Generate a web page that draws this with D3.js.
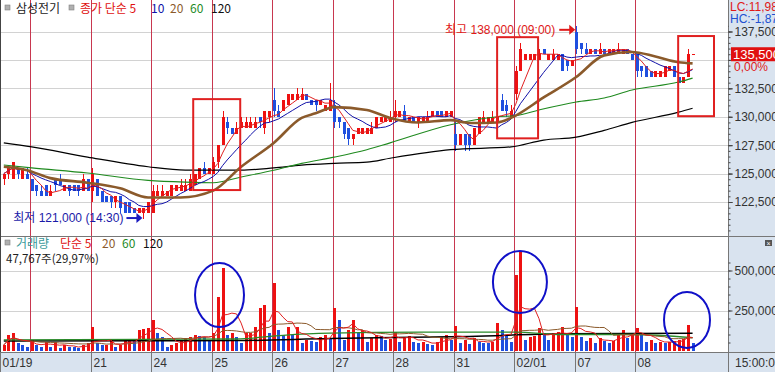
<!DOCTYPE html>
<html>
<head>
<meta charset="utf-8">
<script src="https://cdn.jsdelivr.net/npm/d3@7"></script>
<style>
body { margin: 0; background: #fff; }
svg { display: block; font-family: "Liberation Sans", "Noto Sans CJK KR", sans-serif; }
</style>
</head>
<body>
<svg id="chart" width="775" height="372"></svg>
<script>
// day labels on the time axis ("20" is hidden behind 01/19)
var dayLabels = ["01/19", "", "21", "24", "25", "26", "27", "28", "31", "02/01", "07", "08"];

// 30 min candles, [open, high, low, close] in 1,000 won, one array per day
var ohlc = [
  [[124.5,125.0,124.0,125.0],[125.0,125.5,124.5,125.5],[124.5,126.0,124.5,126.0],[125.5,125.5,124.5,125.0],[124.5,125.5,124.5,125.5],[125.0,125.5,124.5,124.5]],
  [[124.5,124.5,123.5,123.5],[124.0,124.0,123.0,123.5],[123.5,124.0,123.0,123.0],[124.0,124.0,123.0,123.0],[123.0,124.0,123.0,123.5],[124.5,124.5,123.5,124.0],[124.5,125.0,124.0,124.0],[123.5,124.0,123.5,124.0],[124.0,124.0,123.0,123.5],[124.0,124.0,123.5,123.5],[124.0,124.0,123.0,123.5],[123.5,125.0,123.5,124.5],[124.5,124.5,123.5,123.5]],
  [[123.5,125.5,122.5,125.0],[124.5,124.5,123.0,123.0],[123.5,123.5,122.5,122.5],[123.0,123.0,122.5,122.5],[123.0,123.0,122.0,122.5],[122.5,123.0,122.0,123.0],[123.0,123.0,121.5,122.0],[122.5,122.5,121.5,121.5],[122.5,122.5,121.5,121.5],[122.0,122.0,121.5,121.5],[121.5,122.0,121.5,122.0],[121.5,122.0,121.0,122.0],[121.5,122.5,121.5,122.5]],
  [[121.5,124.0,121.5,123.5],[123.0,124.0,123.0,123.5],[123.0,124.0,123.0,123.5],[123.0,123.5,123.0,123.5],[123.0,124.0,123.0,124.0],[123.5,124.0,123.5,124.0],[123.5,124.5,123.5,124.0],[123.5,124.5,123.5,124.0],[123.5,125.0,123.5,124.5],[124.0,125.0,124.0,125.0],[124.5,125.5,124.5,125.5],[125.5,126.0,125.0,125.0],[125.0,125.5,125.0,125.5]],
  [[125.0,126.5,125.0,126.0],[126.0,127.5,125.5,127.5],[127.5,130.5,127.5,130.0],[129.5,130.0,128.5,129.0],[129.0,129.0,128.5,128.5],[128.5,129.5,128.5,129.0],[129.0,130.0,129.0,129.5],[129.0,130.0,129.0,129.5],[129.0,130.0,129.0,129.5],[129.0,130.0,129.0,129.5],[130.0,130.0,129.0,129.5],[129.0,130.5,128.5,130.5],[130.0,130.5,129.5,130.5]],
  [[131.5,132.5,130.0,130.5],[130.5,131.0,130.0,130.0],[130.5,131.5,130.5,131.5],[131.0,132.0,131.0,132.0],[131.5,132.0,131.5,132.0],[131.5,132.5,131.5,132.0],[131.5,132.5,131.5,132.0],[132.0,132.0,131.5,131.5],[131.5,131.5,131.0,131.0],[131.5,131.5,130.5,131.0],[131.0,131.5,131.0,131.5],[130.5,131.0,130.5,131.0],[130.5,133.0,130.5,131.5]],
  [[131.0,131.5,129.0,129.5],[130.0,130.0,129.0,129.5],[129.5,129.5,128.0,128.5],[129.0,129.0,127.5,128.0],[128.0,128.5,127.5,128.5],[128.5,129.0,128.5,129.0],[128.5,129.0,128.5,129.0],[128.5,129.0,128.5,129.0],[128.5,129.5,128.5,129.0],[129.0,130.0,129.0,130.0],[129.5,130.0,129.5,130.0],[129.5,130.0,129.5,130.0],[129.5,130.5,129.5,130.0]],
  [[130.0,131.5,129.5,130.5],[130.0,130.5,130.0,130.5],[130.5,131.0,129.5,129.5],[129.5,130.0,129.5,130.0],[130.0,130.0,129.5,129.5],[129.5,130.0,129.0,130.0],[129.5,130.0,129.5,130.0],[129.5,130.5,129.5,130.0],[130.0,130.5,130.0,130.5],[130.5,130.5,130.0,130.0],[130.5,130.5,130.0,130.0],[130.0,130.5,130.0,130.5],[130.0,130.5,130.0,130.5]],
  [[128.5,129.5,127.0,127.5],[127.5,128.5,127.5,128.5],[128.5,128.5,127.0,127.5],[128.5,128.5,127.0,127.5],[127.5,129.0,127.5,129.0],[128.5,130.0,128.5,130.0],[129.5,130.5,129.5,130.0],[129.5,130.0,129.5,130.0],[129.5,130.5,129.5,130.0],[129.5,130.5,129.5,130.0],[131.5,132.0,130.5,130.5],[131.0,131.5,130.0,130.5],[130.0,131.0,130.0,130.5]],
  [[132.0,134.5,131.5,134.0],[134.0,136.5,134.0,136.0],[135.0,135.5,135.0,135.5],[135.0,135.5,135.0,135.5],[135.0,135.5,135.0,135.5],[135.0,136.0,135.0,135.5],[136.0,136.0,135.5,135.5],[135.0,135.5,135.0,135.5],[135.0,136.0,135.0,135.5],[135.0,135.5,135.0,135.5],[135.5,135.5,134.0,134.0],[135.0,135.0,134.0,134.5],[134.5,135.0,134.5,135.0]],
  [[137.5,138.0,135.5,136.0],[136.5,136.5,135.5,136.0],[136.0,136.5,135.5,135.5],[135.5,136.0,135.5,136.0],[136.0,136.0,135.5,135.5],[135.5,136.5,135.5,136.0],[136.0,136.0,135.5,135.5],[135.5,136.0,135.5,136.0],[135.5,136.0,135.5,136.0],[135.5,136.5,135.5,136.0],[135.5,136.0,135.5,136.0],[136.0,136.0,135.5,135.5],[135.5,135.5,135.0,135.0]],
  [[135.5,135.5,133.5,134.0],[134.5,134.5,133.5,134.0],[134.5,134.5,133.5,133.5],[134.0,134.0,133.5,133.5],[133.5,134.0,133.5,134.0],[133.5,134.0,133.5,134.0],[133.5,134.5,133.5,134.5],[134.0,134.5,134.0,134.5],[134.5,134.5,133.5,133.5],[133.5,133.5,133.0,133.0],[133.0,133.5,133.0,133.5],[133.5,136.0,133.5,135.5],[135.5,135.5,135.5,135.5]]
];

// volume per bar, 1,000 shares
var volume = [
  [35, 95, 110, 45, 35, 25],
  [66, 34, 22, 53, 22, 53, 16, 34, 22, 20, 16, 34, 44],
  [147, 44, 34, 34, 66, 22, 34, 66, 72, 66, 128, 134, 141],
  [190, 109, 84, 22, 34, 44, 66, 78, 84, 97, 90, 84, 66],
  [109, 334, 515, 100, 110, 84, 47, 109, 112, 147, 266, 284, 109],
  [422, 128, 97, 147, 97, 147, 47, 66, 60, 56, 84, 97, 78],
  [266, 190, 66, 128, 190, 109, 128, 55, 78, 97, 90, 66, 70],
  [118, 55, 84, 88, 55, 47, 55, 40, 35, 55, 84, 97, 66],
  [153, 47, 66, 40, 78, 55, 47, 44, 55, 172, 128, 97, 55],
  [472, 616, 66, 84, 88, 141, 109, 66, 109, 115, 147, 97, 84],
  [272, 86, 60, 78, 50, 78, 60, 50, 60, 109, 128, 78, 109],
  [141, 97, 55, 66, 45, 55, 45, 55, 58, 66, 75, 159.4, 47.767]
];

// longer moving averages: [bar index, value]
var ma20 = [[0,125.6],[5,125.3],[10,124.6],[18,124.2],[25,123.7],[31,122.9],[38,122.9],[45,123.5],[51,125.6],[58,127.7],[64,129.9],[67,130.3],[71,130.85],[78,130.6],[83,129.9],[89,129.5],[96,129.7],[100,129.45],[106,129.5],[109,129.9],[116,131.7],[123,133.5],[129,135.4],[135,135.7],[140,135.3],[145,134.8],[148,134.7]];
var ma60 = [[0,125.75],[6,125.5],[18,125.05],[31,124.4],[39,124.25],[45,124.2],[51,124.7],[58,125.3],[64,125.9],[71,126.45],[78,127.1],[83,127.7],[96,129.3],[106,130.0],[110,130.1],[115,130.6],[123,131.3],[129,131.65],[135,132.35],[145,133.05],[148,133.4]];
var ma120 = [[0,127.7],[6,127.35],[18,126.45],[31,125.6],[39,125.3],[45,125.3],[51,125.3],[58,125.5],[64,125.75],[71,125.9],[78,126.0],[83,126.35],[96,127.1],[109,127.35],[116,127.95],[123,128.2],[129,128.8],[135,129.5],[145,130.4],[148,130.75]];
var volMa60 = [[0,66],[30,70],[50,72],[60,95],[70,108],[90,115],[110,115],[120,100],[135,100],[148,80]];
var volMa120 = [[0,60],[30,61],[50,62],[70,75],[100,88],[120,104],[148,108]];

// price / volume ticks
var priceTicks = [122.5, 125, 127.5, 130, 132.5, 135, 137.5];
var volTicks = [250, 500];

// marked zones: bar range and value range
var boxes = [[40.7, 50.8, 123.55, 131.55], [106.0, 114.8, 128.1, 137.0], [144.9, 152.6, 130.05, 137.1]];
var rings = [[46.35, 347, 5.26, 200], [110.9, 428, 5.8, 194], [146.8, 191, 4.94, 175]];

var candles = [].concat.apply([], ohlc);
var vols = [].concat.apply([], volume);
var n = candles.length;
var dayStart = [];
var acc = 0;
ohlc.forEach(function(d) { dayStart.push(acc); acc += d.length; });

var svg = d3.select("#chart");
var RIGHT = 728, PRICE_BOTTOM = 236, VOL_BOTTOM = 352;
var UP = "#ee1111", DOWN = "#1f4fdf", PANEL = "#d9e3ef";

var step = 4.654;
var x = d3.scaleLinear().domain([0, n - 1]).range([3.8, 3.8 + (n - 1) * step]);
var y = d3.scaleLinear().domain([122.5, 137.5]).range([202, 31.5]);
var yv = d3.scaleLinear().domain([0, 500]).range([350.5, 270.5]);
var last = candles[n - 1][3];

var defs = svg.append("defs");
defs.append("clipPath").attr("id", "cp").append("rect").attr("x", 1).attr("y", 0).attr("width", RIGHT - 1).attr("height", PRICE_BOTTOM);
defs.append("clipPath").attr("id", "cv").append("rect").attr("x", 1).attr("y", PRICE_BOTTOM).attr("width", RIGHT - 1).attr("height", VOL_BOTTOM - PRICE_BOTTOM);

// panels
svg.append("rect").attr("x", RIGHT).attr("y", 0).attr("width", 775 - RIGHT).attr("height", 372).attr("fill", PANEL);
svg.append("rect").attr("x", 0).attr("y", VOL_BOTTOM).attr("width", 775).attr("height", 20).attr("fill", PANEL);

// grid
var grid = svg.append("g").attr("stroke", "#d2d2d2").attr("shape-rendering", "crispEdges");
priceTicks.forEach(function(t) {
  var yy = Math.round(y(t)) + 0.5;
  grid.append("line").attr("x1", 1).attr("x2", RIGHT).attr("y1", yy).attr("y2", yy);
});
volTicks.forEach(function(t) {
  var yy = Math.round(yv(t)) + 0.5;
  grid.append("line").attr("x1", 1).attr("x2", RIGHT).attr("y1", yy).attr("y2", yy);
});

// day separators
var sepX = function(i) { return Math.round(x(i) - 1.7) + 0.5; };
svg.append("g").selectAll("line").data(dayStart.slice(1)).join("line")
  .attr("x1", sepX).attr("x2", sepX).attr("y1", 0).attr("y2", VOL_BOTTOM)
  .attr("stroke", "#c8374f").attr("shape-rendering", "crispEdges");

// candles
var gc = svg.append("g").attr("clip-path", "url(#cp)").attr("shape-rendering", "crispEdges");
var col = function(d) { return d[3] >= d[0] ? UP : DOWN; };
gc.selectAll("line").data(candles).join("line")
  .attr("x1", function(d, i) { return Math.round(x(i)) + 0.5; })
  .attr("x2", function(d, i) { return Math.round(x(i)) + 0.5; })
  .attr("y1", function(d) { return y(d[1]); })
  .attr("y2", function(d) { return y(d[2]); })
  .attr("stroke", col);
gc.selectAll("rect").data(candles).join("rect")
  .attr("x", function(d, i) { return Math.round(x(i)) - 1; })
  .attr("width", 3)
  .attr("y", function(d) { return y(Math.max(d[0], d[3])); })
  .attr("height", function(d) { return Math.max(1, Math.abs(y(d[0]) - y(d[3]))); })
  .attr("fill", col);

// moving averages
function sma(vals, p) {
  return vals.map(function(v, i) { return d3.mean(vals.slice(Math.max(0, i - p + 1), i + 1)); });
}
var closes = candles.map(function(d) { return d[3]; });
var seriesLine = d3.line().x(function(d, i) { return x(i); }).y(function(d) { return y(d); });
var knotLine = d3.line().x(function(d) { return x(d[0]); }).y(function(d) { return y(d[1]); }).curve(d3.curveMonotoneX);
var gm = svg.append("g").attr("clip-path", "url(#cp)").attr("fill", "none");
gm.append("path").attr("d", knotLine(ma120)).attr("stroke", "#000").attr("stroke-width", 1.2);
gm.append("path").attr("d", knotLine(ma60)).attr("stroke", "#1f8a1f").attr("stroke-width", 1.1);
gm.append("path").attr("d", seriesLine(sma(closes, 10))).attr("stroke", "#1010a8").attr("stroke-width", 1);
gm.append("path").attr("d", seriesLine(sma(closes, 5))).attr("stroke", "#e02020").attr("stroke-width", 1);
gm.append("path").attr("d", knotLine(ma20)).attr("stroke", "#8b5a2b").attr("stroke-width", 2.6);

// volume bars, red when volume rises
var gv = svg.append("g").attr("clip-path", "url(#cv)").attr("shape-rendering", "crispEdges");
gv.selectAll("rect").data(vols).join("rect")
  .attr("x", function(d, i) { return Math.round(x(i)) - 1; })
  .attr("width", 3)
  .attr("y", function(d) { return yv(d); })
  .attr("height", function(d) { return yv(0) - yv(d); })
  .attr("fill", function(d, i) { return i === 0 || d >= vols[i - 1] ? UP : DOWN; });

var vLine = d3.line().x(function(d, i) { return x(i); }).y(function(d) { return yv(d); });
var vKnot = d3.line().x(function(d) { return x(d[0]); }).y(function(d) { return yv(d[1]); }).curve(d3.curveMonotoneX);
var gvm = svg.append("g").attr("clip-path", "url(#cv)").attr("fill", "none");
gvm.append("path").attr("d", vKnot(volMa120)).attr("stroke", "#000").attr("stroke-width", 1.5);
gvm.append("path").attr("d", vKnot(volMa60)).attr("stroke", "#2a8a2a").attr("stroke-width", 1.3);
gvm.append("path").attr("d", vLine(sma(vols, 20))).attr("stroke", "#8b5a2b").attr("stroke-width", 1);
gvm.append("path").attr("d", vLine(sma(vols, 5))).attr("stroke", "#e02020").attr("stroke-width", 1);

// annotations
var ga = svg.append("g").attr("fill", "none");
boxes.forEach(function(b) {
  ga.append("rect").attr("x", x(b[0])).attr("y", y(b[3])).attr("width", x(b[1]) - x(b[0])).attr("height", y(b[2]) - y(b[3]))
    .attr("stroke", "#e02020").attr("stroke-width", 2);
});
rings.forEach(function(r) {
  ga.append("ellipse").attr("cx", x(r[0])).attr("cy", yv(r[1])).attr("rx", x(r[2]) - x(0)).attr("ry", yv(0) - yv(r[3]))
    .attr("stroke", "#1010c8").attr("stroke-width", 2);
});

var lowIdx = d3.minIndex(candles, function(d) { return d[2]; });
var highIdx = d3.maxIndex(candles, function(d) { return d[1]; });
function arrow(xEnd, yy, color) {
  ga.append("line").attr("x1", xEnd - 16).attr("x2", xEnd - 5).attr("y1", yy).attr("y2", yy).attr("stroke", color).attr("stroke-width", 2);
  ga.append("path").attr("d", "M" + (xEnd - 6) + "," + (yy - 5) + "L" + xEnd + "," + yy + "L" + (xEnd - 6) + "," + (yy + 5) + "Z").attr("fill", color);
}
var lowY = y(candles[lowIdx][2]);
arrow(x(lowIdx) - 1, lowY - 1, "#1a1ac0");
svg.append("text").attr("x", x(lowIdx) - 20).attr("y", lowY + 3).attr("text-anchor", "end")
  .attr("font-size", 12).attr("fill", "#1a1aa8").text("최저 121,000 (14:30)");
var highY = y(candles[highIdx][1]) + 4;
arrow(x(highIdx) - 1, highY, "#e01818");
svg.append("text").attr("x", x(highIdx) - 21).attr("y", highY + 4).attr("text-anchor", "end")
  .attr("font-size", 12).attr("fill", "#e01818").text("최고 138,000 (09:00)");

// frame lines
var fr = svg.append("g").attr("stroke", "#777").attr("shape-rendering", "crispEdges");
fr.append("line").attr("x1", 0).attr("x2", 775).attr("y1", PRICE_BOTTOM + 0.5).attr("y2", PRICE_BOTTOM + 0.5);
fr.append("line").attr("x1", 0).attr("x2", 775).attr("y1", VOL_BOTTOM + 0.5).attr("y2", VOL_BOTTOM + 0.5);
fr.append("line").attr("x1", RIGHT + 0.5).attr("x2", RIGHT + 0.5).attr("y1", 0).attr("y2", 372);
fr.append("line").attr("x1", 0.5).attr("x2", 0.5).attr("y1", 0).attr("y2", 372).attr("stroke", "#444");

// right axes; the label next to the last price is left out, as on the original
var fmt = function(d) { return d3.format(",")(Math.round(d * 1000)); };
var labelled = priceTicks.filter(function(t) { return Math.abs(y(t) - y(last)) > 10; });
var minor = d3.range(120, 138.01, 0.5);
var ax = svg.append("g").attr("transform", "translate(" + (RIGHT + 0.5) + ",0)");
ax.append("g").call(d3.axisRight(y).tickValues(minor).tickSize(2).tickFormat(""));
ax.append("g").call(d3.axisRight(y).tickValues(priceTicks).tickSize(4).tickFormat(""));
ax.append("g").call(d3.axisRight(y).tickValues(labelled).tickSize(4).tickPadding(2).tickFormat(fmt));
var vax = svg.append("g").attr("transform", "translate(" + (RIGHT + 0.5) + ",0)");
vax.append("g").call(d3.axisRight(yv).tickValues(d3.range(50, 560, 50)).tickSize(2).tickFormat(""));
vax.append("g").call(d3.axisRight(yv).tickValues(volTicks).tickSize(4).tickPadding(2).tickFormat(fmt));
svg.selectAll(".domain").remove();
svg.selectAll(".tick line").attr("stroke", "#444");
svg.selectAll(".tick text").attr("font-size", 12).attr("fill", "#333").attr("font-family", "Liberation Sans, sans-serif");

// top right info
svg.append("rect").attr("x", RIGHT + 1).attr("y", 0).attr("width", 775 - RIGHT).attr("height", 27).attr("fill", PANEL);
svg.append("text").attr("x", 730).attr("y", 11).attr("font-size", 12).attr("fill", "#e01818").text("LC:11,98");
svg.append("text").attr("x", 730).attr("y", 23).attr("font-size", 12).attr("fill", "#2050d0").text("HC:-1,87");
svg.append("rect").attr("x", 731).attr("y", y(last) - 7).attr("width", 44).attr("height", 14).attr("fill", "#e01010");
svg.append("text").attr("x", 733).attr("y", y(last) + 5).attr("font-size", 13).attr("fill", "#fff").text(fmt(last));
svg.append("text").attr("x", 734).attr("y", y(last) + 17).attr("font-size", 12).attr("fill", "#e01818").text("0,00%");

// close icon in the volume panel
svg.append("rect").attr("x", 765).attr("y", 240).attr("width", 7).attr("height", 6).attr("fill", "#555");
svg.append("text").attr("x", 768.5).attr("y", 245.5).attr("text-anchor", "middle").attr("font-size", 7).attr("fill", "#fff").text("×");

// time axis
var tx = svg.append("g");
dayLabels.forEach(function(lab, d) {
  if (!lab) return;
  var xx = d === 0 ? 0.5 : sepX(dayStart[d]);
  tx.append("line").attr("x1", xx).attr("x2", xx).attr("y1", VOL_BOTTOM).attr("y2", 372).attr("stroke", "#777").attr("shape-rendering", "crispEdges");
  tx.append("text").attr("x", xx + 2).attr("y", 367).attr("font-size", 12).attr("fill", "#333").text(lab);
});
tx.append("text").attr("x", 735).attr("y", 367).attr("font-size", 12).attr("fill", "#333").text("15:00:00");

// legends
function legend(yy, items) {
  var g = svg.append("g").attr("font-size", 12).attr("font-family", "Noto Sans CJK KR, sans-serif");
  items.forEach(function(it) {
    if (it.box) {
      g.append("rect").attr("x", it.x).attr("y", yy - 8).attr("width", 5).attr("height", 5).attr("fill", "#b0b0b0").attr("stroke", "#808080").attr("stroke-width", 0.6);
    } else {
      g.append("text").attr("x", it.x).attr("y", yy).attr("fill", it.c).text(it.t);
    }
  });
}
legend(13, [
  {box: true, x: 5}, {x: 16, t: "삼성전기", c: "#222"},
  {box: true, x: 69}, {x: 80, t: "종가 단순 5", c: "#e01010"},
  {x: 151, t: "10", c: "#1010a8"}, {x: 170, t: "20", c: "#8b5a2b"},
  {x: 190, t: "60", c: "#1f8a1f"}, {x: 211, t: "120", c: "#111"}
]);
legend(248, [
  {box: true, x: 5}, {x: 16, t: "거래량", c: "#3a9a9a"},
  {x: 60, t: "단순 5", c: "#e01010"}, {x: 102, t: "20", c: "#8b5a2b"},
  {x: 122, t: "60", c: "#1f8a1f"}, {x: 143, t: "120", c: "#111"}
]);
svg.append("text").attr("x", 6).attr("y", 263).attr("font-size", 11.5).attr("fill", "#222")
  .attr("font-family", "Noto Sans CJK KR, sans-serif").text("47,767주(29,97%)");
</script>
</body>
</html>
